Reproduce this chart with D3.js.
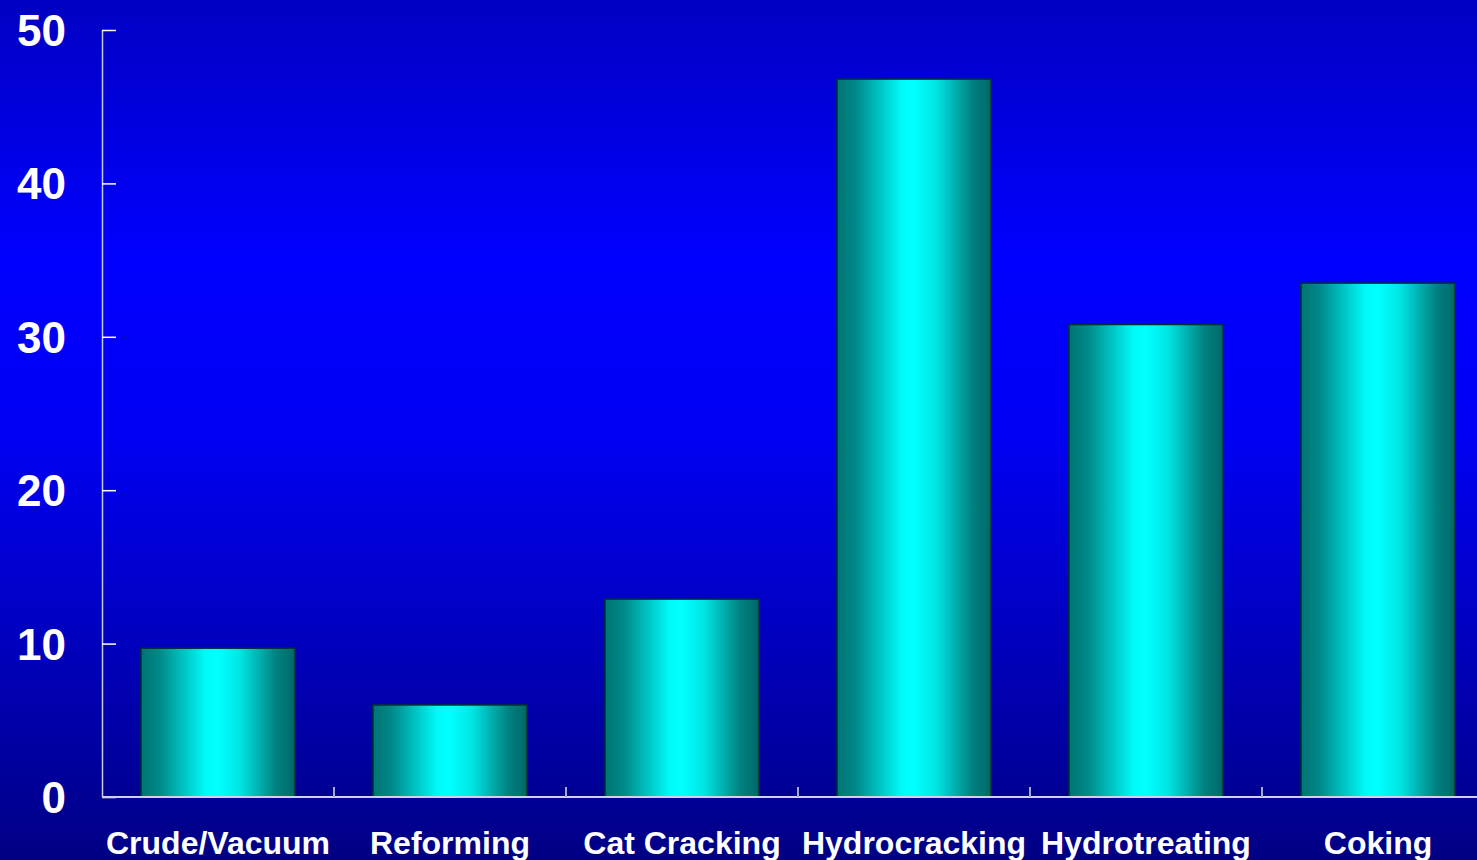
<!DOCTYPE html>
<html>
<head>
<meta charset="utf-8">
<script src="https://cdn.jsdelivr.net/npm/d3@7"></script>
<style>
  html, body { margin: 0; padding: 0; background: #000088; overflow: hidden; }
  text { font-family: "Liberation Sans", Arial, sans-serif; font-weight: bold; fill: #ffffff; }
</style>
</head>
<body>
<div id="chart"></div>
<script>
// chart data
let categories = ["Crude/Vacuum", "Reforming", "Cat Cracking", "Hydrocracking", "Hydrotreating", "Coking"];
let values = [9.7, 6.0, 12.9, 46.8, 30.8, 33.5];
let yTicks = [0, 10, 20, 30, 40, 50];

// Draw the bar chart
function gen_bar_chart() {
    let width = 1477,
        height = 860;
    let margin = {left: 102, top: 30, bottom: 797};

    let svg = d3.select("#chart")
        .append("svg")
        .attr("width", width)
        .attr("height", height);

    let defs = svg.append("defs");

    // background gradient, dark at top and bottom, bright in the middle
    let bg = defs.append("linearGradient")
        .attr("id", "bg")
        .attr("x1", 0).attr("y1", 0).attr("x2", 0).attr("y2", 1);
    bg.append("stop").attr("offset", "0%").attr("stop-color", "#0000c2");
    bg.append("stop").attr("offset", "30%").attr("stop-color", "#0000ff");
    bg.append("stop").attr("offset", "50%").attr("stop-color", "#0000f4");
    bg.append("stop").attr("offset", "92%").attr("stop-color", "#000096");
    bg.append("stop").attr("offset", "100%").attr("stop-color", "#000084");

    // cylinder-like shading for the bars
    let bar = defs.append("linearGradient")
        .attr("id", "barFill")
        .attr("x1", 0).attr("y1", 0).attr("x2", 1).attr("y2", 0);
    bar.append("stop").attr("offset", "0%").attr("stop-color", "#007474");
    bar.append("stop").attr("offset", "12%").attr("stop-color", "#008888");
    bar.append("stop").attr("offset", "42%").attr("stop-color", "#00fafa");
    bar.append("stop").attr("offset", "50%").attr("stop-color", "#00ffff");
    bar.append("stop").attr("offset", "64%").attr("stop-color", "#00e6e6");
    bar.append("stop").attr("offset", "88%").attr("stop-color", "#008080");
    bar.append("stop").attr("offset", "100%").attr("stop-color", "#006868");

    svg.append("rect")
        .attr("width", width)
        .attr("height", height)
        .attr("fill", "url(#bg)");

    let x = d3.scaleBand()
        .domain(categories)
        .range([margin.left, margin.left + 232 * categories.length])
        .paddingInner(0.336)
        .paddingOuter(0.168);

    let y = d3.scaleLinear()
        .domain([0, 50])
        .range([margin.bottom, margin.top]);

    // bars
    svg.selectAll(".bar")
        .data(values)
        .enter().append("rect")
        .attr("class", "bar")
        .attr("x", (d, i) => x(categories[i]))
        .attr("y", d => y(d))
        .attr("width", x.bandwidth())
        .attr("height", d => y(0) - y(d))
        .attr("fill", "url(#barFill)")
        .attr("stroke", "#003030")
        .attr("stroke-width", 1.5);

    // y axis, ticks pointing inward
    let yAxis = svg.append("g")
        .attr("transform", "translate(" + margin.left + ",0)")
        .call(d3.axisRight(y).tickValues(yTicks).tickSize(14).tickFormat(""));
    yAxis.select(".domain").attr("stroke", "#c8c8e8").attr("stroke-width", 1.5)
        .attr("d", "M0.5," + margin.top + "V" + margin.bottom);
    yAxis.selectAll(".tick line").attr("stroke", "#ffffff").attr("stroke-width", 1.5);

    svg.selectAll(".ylabel")
        .data(yTicks)
        .enter().append("text")
        .attr("class", "ylabel")
        .attr("x", 66)
        .attr("y", d => y(d) + 16)
        .attr("text-anchor", "end")
        .style("font-size", "44px")
        .text(d => d);

    // x axis line with category separators
    let step = x.step();
    let separators = d3.range(1, categories.length).map(i => margin.left + step * i);
    svg.append("line")
        .attr("x1", margin.left).attr("x2", width)
        .attr("y1", margin.bottom).attr("y2", margin.bottom)
        .attr("stroke", "#d0d0e8").attr("stroke-width", 2);
    svg.selectAll(".sep")
        .data(separators)
        .enter().append("line")
        .attr("class", "sep")
        .attr("x1", d => d).attr("x2", d => d)
        .attr("y1", margin.bottom).attr("y2", margin.bottom - 10)
        .attr("stroke", "#a8a8d8").attr("stroke-width", 2);

    svg.selectAll(".xlabel")
        .data(categories)
        .enter().append("text")
        .attr("class", "xlabel")
        .attr("x", d => x(d) + x.bandwidth() / 2)
        .attr("y", 854)
        .attr("text-anchor", "middle")
        .style("font-size", "32px")
        .text(d => d);
}

gen_bar_chart();
</script>
</body>
</html>
